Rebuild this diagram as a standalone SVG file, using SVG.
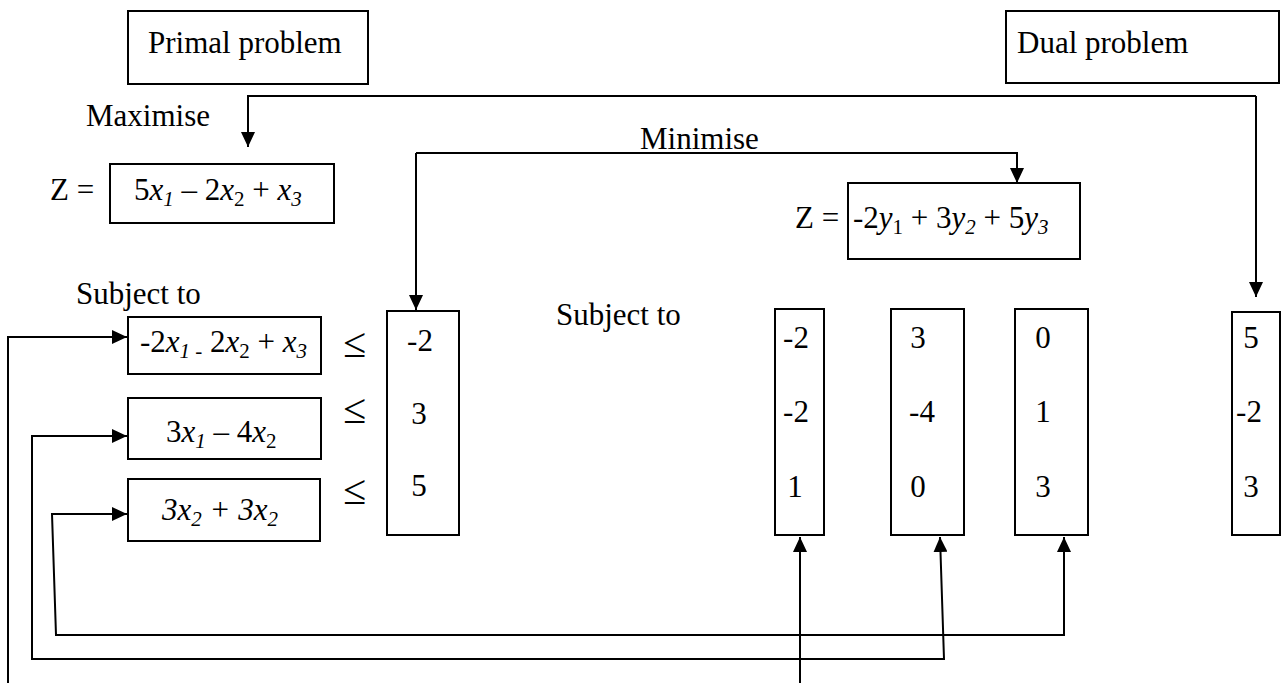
<svg xmlns="http://www.w3.org/2000/svg" width="1282" height="683" viewBox="0 0 1282 683">
<defs>
<style>
.bx{fill:#fff;stroke:#000;stroke-width:2}
.ln{fill:none;stroke:#000;stroke-width:2}
.t{font-family:"Liberation Serif","Times New Roman",serif;font-size:31px;fill:#000}
.i{font-style:italic}
.s{font-size:21px}
.m{text-anchor:middle}
.le{font-size:42px}
</style>
<marker id="ah" markerUnits="userSpaceOnUse" markerWidth="16" markerHeight="14" refX="15" refY="7" orient="auto-start-reverse">
<path d="M0,0 L15,7 L0,14 Z" fill="#000"/>
</marker>
</defs>
<rect width="1282" height="683" fill="#fff"/>

<g id="primal-title">
<rect class="bx" x="128" y="11" width="240" height="73"/>
<text class="t" x="148" y="53">Primal problem</text>
</g>
<g id="dual-title">
<rect class="bx" x="1006" y="11" width="273" height="72"/>
<text class="t" x="1017" y="53">Dual problem</text>
</g>

<g id="maximise-label"><text class="t" x="86" y="126">Maximise</text></g>
<g id="minimise-label"><text class="t" x="640" y="149">Minimise</text></g>
<g id="subject-left"><text class="t" x="76" y="304">Subject to</text></g>
<g id="subject-mid"><text class="t" x="556" y="325">Subject to</text></g>

<g id="primal-objective">
<text class="t" x="50" y="200">Z =</text>
<rect class="bx" x="110" y="164" width="224" height="59"/>
<text class="t" x="134" y="200">5<tspan class="i">x</tspan><tspan class="s i" dy="6">1</tspan><tspan dy="-6"> – 2</tspan><tspan class="i">x</tspan><tspan class="s" dy="6">2</tspan><tspan dy="-6"> + </tspan><tspan class="i">x</tspan><tspan class="s i" dy="6">3</tspan></text>
</g>

<g id="dual-objective">
<text class="t" x="795" y="228">Z =</text>
<rect class="bx" x="848" y="183" width="232" height="76"/>
<text class="t" x="853" y="228">-2<tspan class="i">y</tspan><tspan class="s" dy="6">1</tspan><tspan dy="-6"> + 3</tspan><tspan class="i">y</tspan><tspan class="s i" dy="6">2</tspan><tspan dy="-6"> + 5</tspan><tspan class="i">y</tspan><tspan class="s i" dy="6">3</tspan></text>
</g>

<g id="constraint-1">
<rect class="bx" x="128" y="317" width="193" height="57"/>
<text class="t" x="140" y="352">-2<tspan class="i">x</tspan><tspan class="s i" dy="6">1 -</tspan><tspan dy="-6"> 2</tspan><tspan class="i">x</tspan><tspan class="s" dy="6">2</tspan><tspan dy="-6"> + </tspan><tspan class="i">x</tspan><tspan class="s i" dy="6">3</tspan></text>
<text class="t le" x="343" y="357">≤</text>
</g>
<g id="constraint-2">
<rect class="bx" x="128" y="398" width="193" height="61"/>
<text class="t" x="166" y="442">3<tspan class="i">x</tspan><tspan class="s i" dy="6">1</tspan><tspan dy="-6"> – 4</tspan><tspan class="i">x</tspan><tspan class="s" dy="6">2</tspan></text>
<text class="t le" x="343" y="423">≤</text>
</g>
<g id="constraint-3">
<rect class="bx" x="128" y="479" width="192" height="62"/>
<text class="t i" x="162" y="520">3x<tspan class="s" dy="6">2</tspan><tspan dy="-6"> + 3x</tspan><tspan class="s" dy="6">2</tspan></text>
<text class="t le" x="343" y="504">≤</text>
</g>

<g id="primal-rhs">
<rect class="bx" x="387" y="311" width="72" height="224"/>
<text class="t m" x="420" y="351">-2</text>
<text class="t m" x="419" y="424">3</text>
<text class="t m" x="419" y="496">5</text>
</g>

<g id="dual-col-1">
<rect class="bx" x="775" y="309" width="49" height="226"/>
<text class="t m" x="796" y="348">-2</text>
<text class="t m" x="796" y="422">-2</text>
<text class="t m" x="795" y="497">1</text>
</g>
<g id="dual-col-2">
<rect class="bx" x="891" y="309" width="73" height="226"/>
<text class="t m" x="918" y="348">3</text>
<text class="t m" x="922" y="422">-4</text>
<text class="t m" x="918" y="497">0</text>
</g>
<g id="dual-col-3">
<rect class="bx" x="1015" y="309" width="73" height="226"/>
<text class="t m" x="1043" y="348">0</text>
<text class="t m" x="1043" y="422">1</text>
<text class="t m" x="1043" y="497">3</text>
</g>
<g id="dual-rhs">
<rect class="bx" x="1232" y="312" width="48" height="223"/>
<text class="t m" x="1251" y="348">5</text>
<text class="t m" x="1249" y="422">-2</text>
<text class="t m" x="1251" y="497">3</text>
</g>

<g id="connectors">
<path class="ln" d="M1256,96 H248 V147" marker-end="url(#ah)"/>
<path class="ln" d="M1256,96 V297" marker-end="url(#ah)"/>
<path class="ln" d="M416,153 H1017 V183" marker-end="url(#ah)"/>
<path class="ln" d="M416,153 V310" marker-end="url(#ah)"/>
<path class="ln" d="M8,683 V337 H127" marker-end="url(#ah)"/>
<path class="ln" d="M800,683 V537" marker-end="url(#ah)"/>
<path class="ln" d="M127,436 H32 V659 H944 L940,537" marker-start="url(#ah)" marker-end="url(#ah)"/>
<path class="ln" d="M127,514 H52 L56,635 H1064 V537" marker-start="url(#ah)" marker-end="url(#ah)"/>
</g>
</svg>
